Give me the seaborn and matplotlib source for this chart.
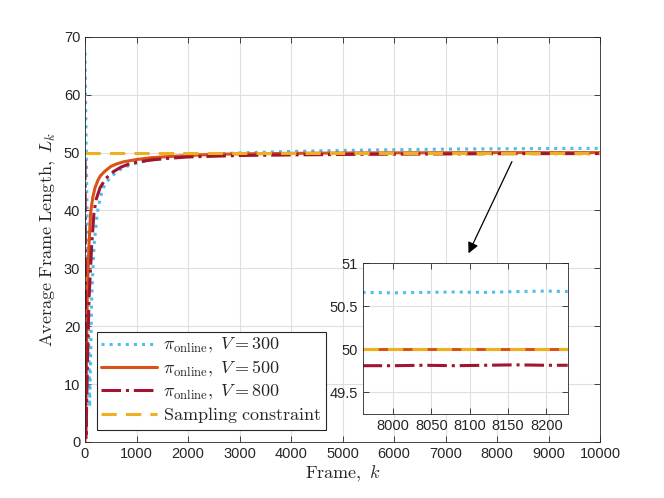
import matplotlib
matplotlib.use("Agg")
import matplotlib.pyplot as plt
import seaborn as sns

# values
k300 = [0, 90, 110, 130, 175, 240, 300, 356, 420, 500, 647, 800, 1003, 1262, 1500,
        2000, 2500, 3000, 4000, 5000, 6000, 7000, 8000, 9000, 10000]
v300 = [67.3, 6, 15, 25, 34, 39.7, 42.3, 43.9, 44.9, 45.8, 46.9, 47.6, 48.2, 48.7, 49.0,
        49.45, 49.75, 49.95, 50.2, 50.38, 50.5, 50.6, 50.66, 50.7, 50.73]

k500 = [0, 5, 30, 45, 78, 110, 150, 194, 250, 300, 388, 500, 600, 744, 1000, 1262,
        1500, 2000, 2500, 3000, 4000, 5000, 6000, 8000, 10000]
v500 = [0, 3, 15, 25.9, 34, 39.7, 42.2, 43.9, 45.2, 46.0, 46.8, 47.6, 48.0, 48.4, 48.8,
        49.1, 49.25, 49.5, 49.7, 49.78, 49.87, 49.93, 49.96, 50.0, 50.0]

k800 = [0, 20, 50, 80, 130, 175, 220, 291, 400, 550, 700, 874, 1050, 1262, 1600,
        2000, 3000, 4000, 5000, 6000, 8000, 10000]
v800 = [48.7, 0.5, 15, 25, 34, 39.7, 42.0, 43.9, 45.5, 46.7, 47.5, 48.1, 48.4, 48.7,
        49.0, 49.25, 49.5, 49.6, 49.68, 49.73, 49.81, 49.83]

k_con = [0, 10000]
v_con = [50, 50]

# zoomed window
ik = [7960, 8000, 8040, 8080, 8120, 8160, 8200, 8228]
i300 = [50.66, 50.655, 50.66, 50.665, 50.66, 50.67, 50.675, 50.67]
i500 = [50.0, 50.0, 50.0, 50.0, 50.0, 50.0, 50.0, 50.0]
i800 = [49.81, 49.81, 49.815, 49.81, 49.815, 49.82, 49.815, 49.815]
icon = [50.0, 50.0, 50.0, 50.0, 50.0, 50.0, 50.0, 50.0]

labels = [r'$\pi_{\mathrm{online}},\ V = 300$',
          r'$\pi_{\mathrm{online}},\ V = 500$',
          r'$\pi_{\mathrm{online}},\ V = 800$',
          r'$\mathrm{Sampling\ constraint}$']
colors = ['#4DBEEE', '#D95319', '#A2142F', '#EDB120']

sns.set_style('ticks')
plt.rcParams['font.family'] = ['Liberation Sans', 'DejaVu Sans']
plt.rcParams['mathtext.fontset'] = 'cm'
plt.rcParams['xtick.direction'] = 'in'
plt.rcParams['ytick.direction'] = 'in'
plt.rcParams['axes.edgecolor'] = '#262626'
plt.rcParams['axes.linewidth'] = 0.6


def style_axes(ax):
    ax.grid(True, color='#dfdfdf', linewidth=0.8)
    ax.set_axisbelow(True)
    for s in ax.spines.values():
        s.set_visible(True)
    ax.tick_params(top=True, right=True, labelsize=10.5, colors='#262626',
                   length=4, width=0.6)


fig = plt.figure(figsize=(6.64, 4.98), dpi=100)
ax = fig.add_axes([0.128, 0.1125, 0.776, 0.8135])

lw = 2.2
sns.lineplot(x=k300, y=v300, ax=ax, color=colors[0], linestyle=':', lw=lw,
             label=labels[0], sort=False)
sns.lineplot(x=k500, y=v500, ax=ax, color=colors[1], linestyle='-', lw=lw,
             label=labels[1], sort=False)
sns.lineplot(x=k800, y=v800, ax=ax, color=colors[2], linestyle='-.', lw=lw,
             label=labels[2], sort=False)
sns.lineplot(x=k_con, y=v_con, ax=ax, color=colors[3], lw=lw,
             label=labels[3], sort=False, dashes=False)
ax.lines[3].set_dashes([5, 3])

ax.set_xlim(0, 10000)
ax.set_ylim(0, 70)
ax.set_xticks(range(0, 10001, 1000))
ax.set_yticks(range(0, 71, 10))
ax.set_xlabel(r'$\mathrm{Frame},\ k$', fontsize=13, labelpad=2)
ax.set_ylabel(r'$\mathrm{Average\ Frame\ Length},\ L_k$', fontsize=13, labelpad=4)
style_axes(ax)

leg = ax.legend(loc='lower left', bbox_to_anchor=(0.023, 0.03), fontsize=13,
                frameon=True, fancybox=False, edgecolor='#262626', framealpha=1,
                handlelength=3.1, handletextpad=0.3, borderpad=0.25,
                labelspacing=0.2, borderaxespad=0)
leg.get_frame().set_linewidth(0.8)

ax.annotate('', xy=(7443, 32.6), xytext=(8286, 48.45),
            arrowprops=dict(arrowstyle='-|>', color='black', lw=0.9,
                            mutation_scale=16, shrinkA=0, shrinkB=0))

ins = fig.add_axes([0.546, 0.1687, 0.309, 0.303])
ins.set_facecolor('white')
sns.lineplot(x=ik, y=i300, ax=ins, color=colors[0], linestyle=':', lw=lw, sort=False)
sns.lineplot(x=ik, y=i500, ax=ins, color=colors[1], linestyle='-', lw=lw, sort=False)
sns.lineplot(x=ik, y=i800, ax=ins, color=colors[2], linestyle='-.', lw=lw, sort=False)
sns.lineplot(x=ik, y=icon, ax=ins, color=colors[3], lw=lw, sort=False)
ins.lines[3].set_dashes([5, 3])
ins.set_xlim(7960, 8228)
ins.set_ylim(49.25, 51)
ins.set_xticks([8000, 8050, 8100, 8150, 8200])
ins.set_yticks([49.5, 50, 50.5, 51])
ins.set_yticklabels(['49.5', '50', '50.5', '51'])
ins.set_xlabel('')
ins.set_ylabel('')
style_axes(ins)

fig.savefig('out.png', dpi=100)
